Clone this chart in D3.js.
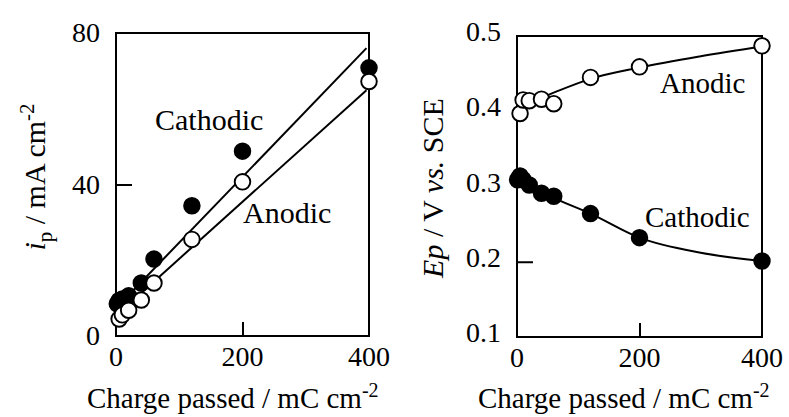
<!DOCTYPE html>
<html>
<head>
<meta charset="utf-8">
<script src="https://cdn.jsdelivr.net/npm/d3@7/dist/d3.min.js"></script>
<style>
  html, body { margin: 0; padding: 0; background: #fff; }
</style>
</head>
<body>
<svg id="chart" width="789" height="417"></svg>
<script>
// Peak current and peak potential versus charge passed
const chargeTicks = [0, 200, 400];
const currentTicks = [0, 40, 80];
const potentialTicks = [0.1, 0.2, 0.3, 0.4, 0.5];

// Left panel: peak current (mA cm-2)
const cathodicChargeI = [2, 5, 10, 20, 40, 60, 120, 200, 400];
const cathodicCurrent = [8.5, 9.4, 9.8, 10.6, 14, 20.3, 34.4, 48.8, 70.8];
const anodicChargeI = [5, 10, 20, 40, 60, 120, 200, 400];
const anodicCurrent = [4.5, 5.6, 6.8, 9.5, 14, 25.5, 40.7, 67.2];
// Straight-line fits
const cathodicFitCharge = [5, 396];
const cathodicFitCurrent = [8.2, 76.0];
const anodicFitCharge = [5, 396];
const anodicFitCurrent = [6.1, 64.9];

// Right panel: peak potential (V vs. SCE)
const cathodicChargeE = [1, 5, 10, 20, 40, 60, 120, 200, 400];
const cathodicPotential = [0.309, 0.314, 0.309, 0.302, 0.291, 0.287, 0.264, 0.232, 0.201];
const anodicChargeE = [5, 10, 20, 40, 60, 120, 200, 400];
const anodicPotential = [0.397, 0.415, 0.414, 0.416, 0.410, 0.445, 0.459, 0.487];
// Smooth trend curves
const cathodicCurveCharge = [2, 60, 120, 200, 300, 400];
const cathodicCurvePotential = [0.310, 0.285, 0.264, 0.232, 0.212, 0.201];
const anodicCurveCharge = [10, 40, 64, 120, 200, 300, 400];
const anodicCurvePotential = [0.410, 0.418, 0.426, 0.443, 0.458, 0.473, 0.486];

const svg = d3.select("#chart");
const SERIF = "Liberation Serif";
const R = 7.8;
const SW = 1.9;

function zip(xs, ys) { return xs.map((x, i) => [x, ys[i]]); }

// every text sits directly on the svg root
function txt(x, y, size, str) {
  const t = svg.append("text").attr("class", "label")
    .attr("x", x).attr("y", y)
    .attr("font-size", size)
    .attr("font-family", () => `"${SERIF}"`);
  if (str) t.text(str);
  return t;
}

function panel(opts) {
  const g = svg.append("g");
  const x = d3.scaleLinear().domain([0, 400]).range([opts.left, opts.right]);
  const y = d3.scaleLinear().domain(opts.yDomain).range([opts.bottom, opts.top]);

  // frame
  g.append("rect")
    .attr("x", opts.left).attr("y", opts.top)
    .attr("width", opts.right - opts.left).attr("height", opts.bottom - opts.top)
    .attr("fill", "none").attr("stroke", "#000").attr("stroke-width", 2);

  // inner tick marks
  g.append("g").attr("transform", `translate(${opts.left},0)`)
    .call(d3.axisRight(y).tickValues(opts.innerYTick).tickSize(16).tickFormat(""))
    .call(a => { a.select(".domain").remove(); a.selectAll("line").attr("stroke-width", 2); });
  g.append("g").attr("transform", `translate(0,${opts.bottom})`)
    .call(d3.axisTop(x).tickValues([200]).tickSize(14).tickFormat(""))
    .call(a => { a.select(".domain").remove(); a.selectAll("line").attr("stroke-width", 2); });

  // tick labels
  svg.selectAll(null).data(opts.yTicks).join("text")
    .attr("class", "tick-label")
    .attr("x", opts.left - 16).attr("y", d => y(d) + opts.yLabelShift)
    .attr("text-anchor", "end").attr("dy", "0.33em")
    .attr("font-size", 28)
    .attr("font-family", () => `"${SERIF}"`)
    .text(opts.yFormat);
  svg.selectAll(null).data(chargeTicks).join("text")
    .attr("class", "tick-label")
    .attr("x", d => x(d)).attr("y", opts.bottom + 30)
    .attr("text-anchor", "middle")
    .attr("font-size", 28)
    .attr("font-family", () => `"${SERIF}"`)
    .text(d3.format("d"));

  // x title
  const xt = txt(opts.xTitleX, 408, 29, null);
  xt.append("tspan").text("Charge passed / mC cm");
  xt.append("tspan").attr("dy", -11).attr("font-size", 20).text("-2");

  return { g, x, y };
}

function drawCurve(p, xs, ys, curve) {
  p.g.append("path")
    .datum(zip(xs, ys))
    .attr("fill", "none").attr("stroke", "#000").attr("stroke-width", 2)
    .attr("d", d3.line().x(d => p.x(d[0])).y(d => p.y(d[1])).curve(curve));
}

function drawPoints(p, xs, ys, filled) {
  p.g.append("g").selectAll("circle")
    .data(zip(xs, ys)).join("circle")
    .attr("cx", d => p.x(d[0])).attr("cy", d => p.y(d[1])).attr("r", R)
    .attr("fill", filled ? "#000" : "#fff")
    .attr("stroke", "#000").attr("stroke-width", SW);
}

// ---- Left: peak current ----
const left = panel({
  left: 116, right: 369, top: 33, bottom: 336,
  yDomain: [0, 80], yTicks: currentTicks, yFormat: d3.format("d"),
  innerYTick: [40], yLabelShift: 0, xTitleX: 87
});
drawCurve(left, cathodicFitCharge, cathodicFitCurrent, d3.curveLinear);
drawCurve(left, anodicFitCharge, anodicFitCurrent, d3.curveLinear);
drawPoints(left, cathodicChargeI, cathodicCurrent, true);
drawPoints(left, anodicChargeI, anodicCurrent, false);

txt(155, 130, 30, "Cathodic");
txt(243, 223, 30, "Anodic");

const yt1 = txt(0, 0, 30, null)
  .attr("text-anchor", "middle")
  .attr("transform", "translate(45,177) rotate(-90)");
yt1.append("tspan").attr("font-style", "italic").text("i");
yt1.append("tspan").attr("font-size", 21).attr("dy", 7).text("p");
yt1.append("tspan").attr("dy", -7).text(" / mA cm");
yt1.append("tspan").attr("font-size", 21).attr("dy", -11).text("-2");

// ---- Right: peak potential ----
const right = panel({
  left: 517, right: 762, top: 36, bottom: 337,
  yDomain: [0.1, 0.5], yTicks: potentialTicks, yFormat: d3.format(".1f"),
  innerYTick: [0.2], yLabelShift: -4, xTitleX: 478
});
drawCurve(right, anodicCurveCharge, anodicCurvePotential, d3.curveMonotoneX);
drawCurve(right, cathodicCurveCharge, cathodicCurvePotential, d3.curveMonotoneX);
drawPoints(right, cathodicChargeE, cathodicPotential, true);
drawPoints(right, anodicChargeE, anodicPotential, false);

txt(660, 93, 29, "Anodic");
txt(645, 227, 29, "Cathodic");

const yt2 = txt(0, 0, 30, null)
  .attr("text-anchor", "middle")
  .attr("transform", "translate(443,188) rotate(-90)");
yt2.append("tspan").attr("font-style", "italic").text("Ep");
yt2.append("tspan").text(" / V ");
yt2.append("tspan").attr("font-style", "italic").text("vs.");
yt2.append("tspan").text(" SCE");
</script>
</body>
</html>
